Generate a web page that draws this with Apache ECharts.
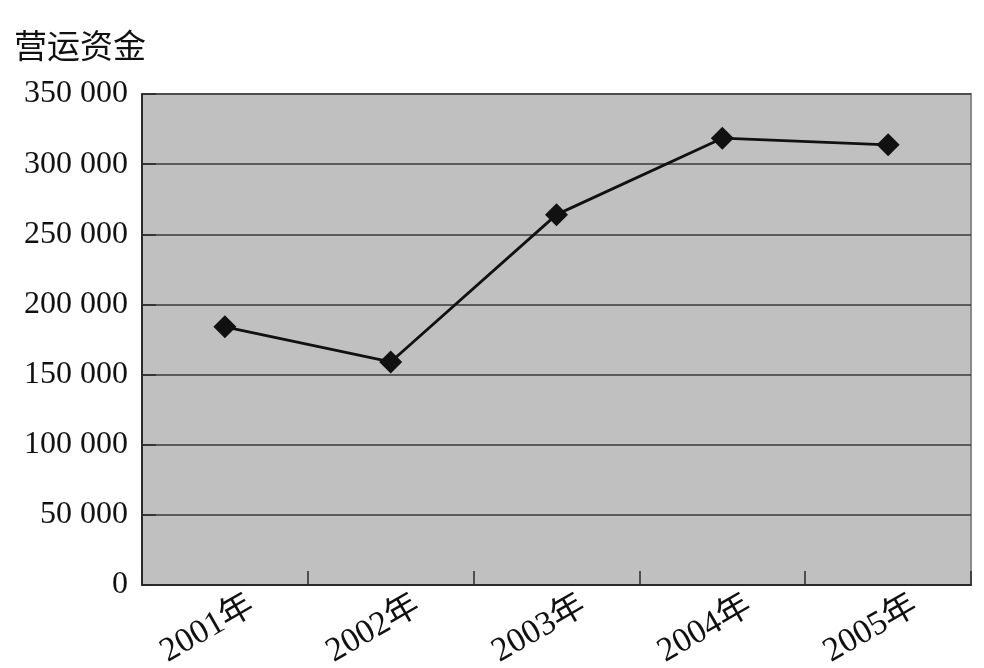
<!DOCTYPE html>
<html>
<head>
<meta charset="utf-8">
<script src="https://cdn.jsdelivr.net/npm/echarts@6/dist/echarts.min.js"></script>
<style>
html,body{margin:0;padding:0;background:#fff;}
#chart{width:984px;height:668px;}
</style>
</head>
<body>
<div id="chart"></div>
<script>
var titleText = '营运资金';
var categories = ['2001年', '2002年', '2003年', '2004年', '2005年'];
var workingCapital = [184000, 159000, 264000, 318500, 313800];
var yTicks = [0, 50000, 100000, 150000, 200000, 250000, 300000, 350000];

function fmtNum(v) {
  var s = String(Math.round(v));
  return s.replace(/\B(?=(\d{3})+(?!\d))/g, ' ');
}

var chart = echarts.init(document.getElementById('chart'), null, {renderer: 'canvas'});
chart.setOption({
  animation: false,
  backgroundColor: '#ffffff',
  title: {
    text: titleText,
    left: 9,
    top: 24,
    textStyle: {
      fontFamily: '"Noto Sans CJK SC", "Liberation Serif", serif',
      fontSize: 33,
      fontWeight: 'normal',
      color: '#111'
    }
  },
  grid: {
    left: 142,
    right: 13,
    top: 94,
    bottom: 83,
    containLabel: false,
    outerBoundsMode: 'none',
    show: true,
    backgroundColor: '#c0c0c0',
    borderColor: '#8a8a8a',
    borderWidth: 2
  },
  xAxis: {
    type: 'category',
    data: categories,
    boundaryGap: true,
    axisLine: {show: true, lineStyle: {color: '#2a2a2a', width: 2}},
    axisTick: {show: true, inside: true, length: 14, alignWithLabel: false, lineStyle: {color: '#2a2a2a', width: 1.5}},
    splitLine: {show: false},
    axisLabel: {
      rotate: 30,
      align: 'center',
      margin: 34,
      formatter: function (v) { return '{t|' + v + '}{sp| }'; },
      rich: {
        t: {
          fontFamily: '"Liberation Serif", "Noto Sans CJK SC", serif',
          fontSize: 34,
          color: '#111'
        },
        sp: {width: 40, fontSize: 34}
      }
    }
  },
  yAxis: {
    type: 'value',
    min: yTicks[0],
    max: yTicks[yTicks.length - 1],
    interval: yTicks[1] - yTicks[0],
    axisLine: {show: true, lineStyle: {color: '#2a2a2a', width: 2}},
    axisTick: {show: true, inside: true, length: 14, lineStyle: {color: '#2a2a2a', width: 1.5}},
    splitLine: {show: true, lineStyle: {color: '#3a3a3a', width: 1.5}},
    axisLabel: {
      margin: 14,
      fontFamily: '"Liberation Serif", serif',
      fontSize: 32,
      color: '#111',
      formatter: fmtNum
    }
  },
  series: [{
    type: 'line',
    data: workingCapital,
    symbol: 'diamond',
    symbolSize: 23,
    lineStyle: {color: '#111', width: 2.8},
    itemStyle: {color: '#111'},
    z: 5
  }]
});
</script>
</body>
</html>
